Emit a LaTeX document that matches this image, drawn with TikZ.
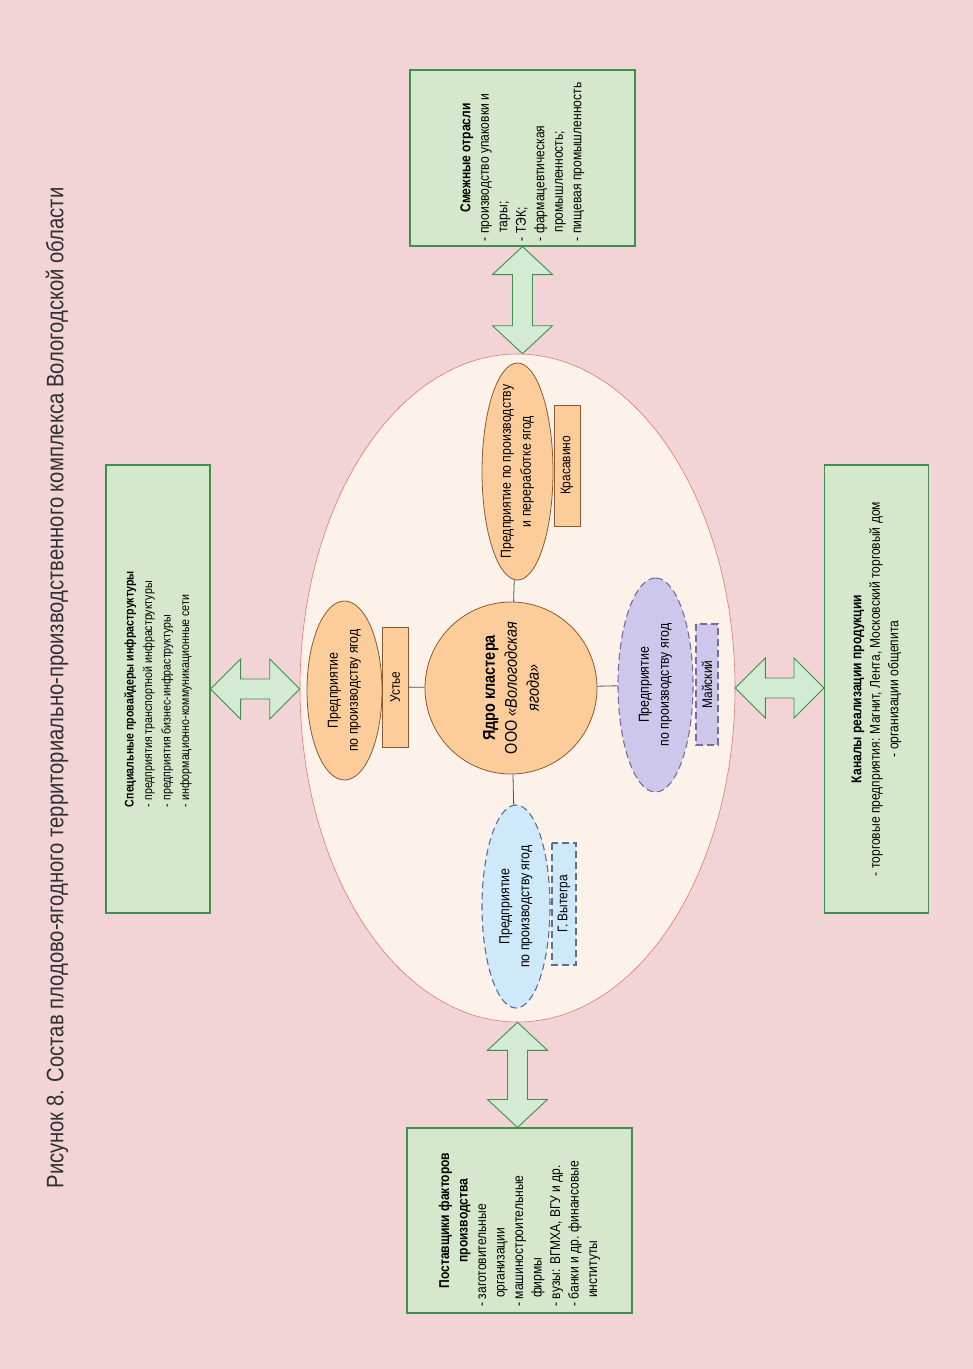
\documentclass[tikz,border=0pt]{standalone}
\usepackage{fontspec}
\setmainfont{Liberation Sans}[FakeStretch=0.85]
\usepackage{tikz}
\usepackage{xcolor}
\usetikzlibrary{shapes.geometric, calc}
\definecolor{bgPink}{HTML}{F2D4D6}
\definecolor{boxGreen}{HTML}{D5E8CB}
\definecolor{boxGreenLine}{HTML}{3F8F4F}
\definecolor{arrowFill}{HTML}{D3EBD2}
\definecolor{clusterFill}{HTML}{FDF2E9}
\definecolor{clusterLine}{HTML}{E07878}
\definecolor{coreFill}{HTML}{FCCD9B}
\definecolor{coreLine}{HTML}{8C5A32}
\definecolor{blueFill}{HTML}{CDE9FA}
\definecolor{blueLine}{HTML}{5A6E9A}
\definecolor{violetFill}{HTML}{CDC8EB}
\definecolor{violetLine}{HTML}{7D6A9A}
\definecolor{linkGray}{HTML}{505050}
\definecolor{titleGray}{HTML}{303030}
\tikzset{
    greenBox/.style={rectangle, draw=boxGreenLine, fill=boxGreen, line width=1.1pt, rotate=90, inner sep=4pt, font=\fontsize{14.2}{18.5}\selectfont},
    firmEll/.style={ellipse, rotate=90, line width=0.8pt, inner sep=0pt},
    firmText/.style={rotate=90, align=center, font=\fontsize{14.5}{20}\selectfont},
    townBox/.style={rectangle, rotate=90, line width=0.8pt, inner sep=0pt, font=\fontsize{14}{16}\selectfont},
    plannedLine/.style={line width=1.1pt, dash pattern=on 7pt off 4pt},
    blockArrow/.style={draw=boxGreenLine, fill=arrowFill, line width=0.9pt, line join=miter},
    linkLine/.style={draw=linkGray, line width=0.8pt}
}
% double block arrows: vertical (top tip, bottom tip) and horizontal (left tip, right tip)
\newcommand{\blockArrowV}[2]{%
  \path[blockArrow] let \p1=(#1), \p2=(#2) in
    (\x1,\y1) -- (\x1+30pt,\y1-28pt) -- (\x1+10pt,\y1-28pt) -- (\x1+10pt,\y2+28pt)
    -- (\x1+30pt,\y2+28pt) -- (\x1,\y2) -- (\x1-30pt,\y2+28pt) -- (\x1-10pt,\y2+28pt)
    -- (\x1-10pt,\y1-28pt) -- (\x1-30pt,\y1-28pt) -- cycle;}
\newcommand{\blockArrowH}[2]{%
  \path[blockArrow] let \p1=(#1), \p2=(#2) in
    (\x1,\y1) -- (\x1+30pt,\y1+30pt) -- (\x1+30pt,\y1+10pt) -- (\x2-30pt,\y1+10pt)
    -- (\x2-30pt,\y1+30pt) -- (\x2,\y1) -- (\x2-30pt,\y1-30pt) -- (\x2-30pt,\y1-10pt)
    -- (\x1+30pt,\y1-10pt) -- (\x1+30pt,\y1-30pt) -- cycle;}
\newcommand{\itemList}[2]{\parbox[t]{#1}{\raggedright #2}}

\begin{document}
\begin{tikzpicture}[x=1pt, y=-1pt]
    \fill[bgPink] (0,0) rectangle (973,1369);
    \useasboundingbox (0,0) rectangle (973,1369);
    % --- caption ---
    \node[rotate=90, text=titleGray, font=\fontsize{23.8}{26}\selectfont] (caption) at (57,688)
        {Рисунок 8. Состав плодово-ягодного территориально-производственного комплекса Вологодской области};
    % --- cluster ---
    \node[ellipse, draw=clusterLine, fill=clusterFill, line width=0.6pt, minimum width=435, minimum height=668, inner sep=0pt] (cluster) at (517.5,688) {};
    \node[circle, draw=coreLine, fill=coreFill, line width=0.8pt, minimum size=172, rotate=90, align=center, font=\fontsize{17}{22}\selectfont] (core) at (511,688)
        {\textbf{Ядро кластера}\\ООО \textit{«Вологодская}\\\textit{ягода»}};
    % top firm
    \node[firmEll, draw=coreLine, fill=coreFill, minimum width=217, minimum height=71] (krasEll) at (517.5,471.5) {};
    \node[firmText] (krasTxt) at (krasEll) {Предприятие по производству\\и переработке ягод};
    \node[townBox, draw=coreLine, fill=coreFill, minimum width=121, minimum height=26] (kras) at (567,465.5) {Красавино};
    % left firm
    \node[firmEll, draw=coreLine, fill=coreFill, minimum width=179, minimum height=75] (ustEll) at (344.5,690.5) {};
    \node[firmText] (ustTxt) at (ustEll) {Предприятие\\по производству ягод};
    \node[townBox, draw=coreLine, fill=coreFill, minimum width=120, minimum height=26] (ust) at (395,687) {Устье};
    % right firm
    \node[firmEll, draw=violetLine, fill=violetFill, plannedLine, minimum width=214, minimum height=75] (maiEll) at (655.5,685) {};
    \node[firmText] (maiTxt) at (maiEll) {Предприятие\\по производству ягод};
    \node[townBox, draw=violetLine, fill=violetFill, plannedLine, minimum width=121, minimum height=22] (mai) at (707,684.5) {Майский};
    % bottom firm
    \node[firmEll, draw=blueLine, fill=blueFill, plannedLine, minimum width=203, minimum height=68] (vytEll) at (516,906.5) {};
    \node[firmText] (vytTxt) at (vytEll) {Предприятие\\по производству ягод};
    \node[townBox, draw=blueLine, fill=blueFill, plannedLine, minimum width=122, minimum height=24] (vyt) at (564,904) {Г. Вытегра};
    % links to core
    \draw[linkLine] (core) -- (krasEll);
    \draw[linkLine] (core) -- (ust);
    \draw[linkLine] (core) -- (maiEll);
    \draw[linkLine] (core) -- (vytEll);
    % --- outer boxes ---
    \node[greenBox, minimum width=176, minimum height=225, align=center] (adj) at (522.5,158)
        {\textbf{Смежные отрасли}\\\itemList{166pt}{- производство упаковки и\\\hspace*{0.6em}тары;\\- ТЭК;\\- фармацевтическая\\\hspace*{0.6em}промышленность;\\- пищевая промышленность}};
    \node[greenBox, minimum width=448, minimum height=104, align=left, font=\fontsize{12.5}{18.5}\selectfont] (infra) at (158,689)
        {\textbf{Специальные провайдеры инфраструктуры}\\- предприятия транспортной инфраструктуры\\- предприятия бизнес-инфраструктуры\\- информационно-коммуникационные сети};
    \node[greenBox, minimum width=448, minimum height=104, align=center] (sales) at (876.5,689)
        {\textbf{Каналы реализации продукции}\\- торговые предприятия: Магнит, Лента, Московский торговый дом\\- организации общепита};
    \node[greenBox, minimum width=185, minimum height=225, align=center] (supply) at (519.5,1220.5)
        {\textbf{Поставщики факторов}\\\textbf{производства}\\\itemList{172pt}{- заготовительные\\\hspace*{0.6em}организации\\- машиностроительные\\\hspace*{0.6em}фирмы\\- вузы: ВГМХА, ВГУ и др.\\- банки и др. финансовые\\\hspace*{0.6em}институты}};
    % --- block arrows ---
    \blockArrowV{adj.west}{cluster.north}
    \blockArrowV{cluster.south}{supply.east}
    \blockArrowH{infra.south}{cluster.west}
    \blockArrowH{cluster.east}{sales.north}
\end{tikzpicture}
\end{document}
